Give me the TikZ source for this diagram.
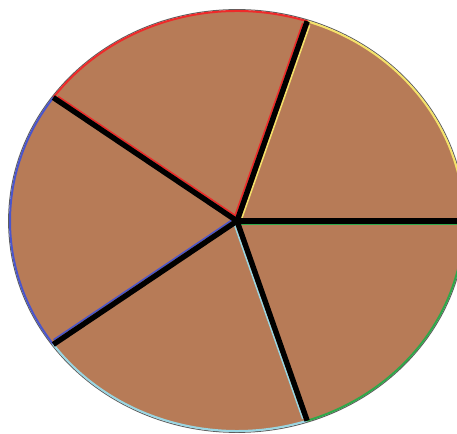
\documentclass[tikz,border=0pt]{standalone}
\begin{document}
\begin{tikzpicture}[x=1pt,y=1pt]
\definecolor{pie}{HTML}{B77B57}\definecolor{rim}{HTML}{5E5E5E}\definecolor{sa}{HTML}{F5E26A}\definecolor{sb}{HTML}{EE2A2A}\definecolor{sc}{HTML}{4A55CC}\definecolor{sd}{HTML}{9AD6E2}\definecolor{se}{HTML}{2FA84A}
\tikzset{wedge/.style={line width=2pt,line join=round},spoke/.style={line width=5.4pt,black}}
\useasboundingbox (0,0) rectangle (457,433);\clip (0,0) rectangle (457,433);
\begin{scope}[shift={(237,212)}]
\coordinate (hub) at (0,0);
\draw[rim,line width=1pt] (hub) ellipse[x radius=228.4,y radius=211.4];
\foreach \s/\col in {0/sa,72/sb,144/sc,216/sd,288/se}{\draw[wedge,\col,fill=pie] (hub) -- (\s:227 and 210) arc[start angle=\s,delta angle=72,x radius=227,y radius=210] -- cycle;}
\foreach \e/\col in {72/sa,144/sb,216/sc,288/sd,360/se}{\draw[\col,line width=1.6pt,shift={(\e-90:3.6)}] (0,0) -- (\e:224 and 207);}\draw[sb,line width=1.6pt,shift={(162:3.6)}] (0,0) -- (72:224 and 207);
\foreach \e [count=\i] in {0,72,144,216,288}{\coordinate (tip\i) at (\e:227 and 210);\draw[spoke] (hub) -- (tip\i);}
\fill (hub) circle (2.7);
\end{scope}
\end{tikzpicture}
\end{document}
